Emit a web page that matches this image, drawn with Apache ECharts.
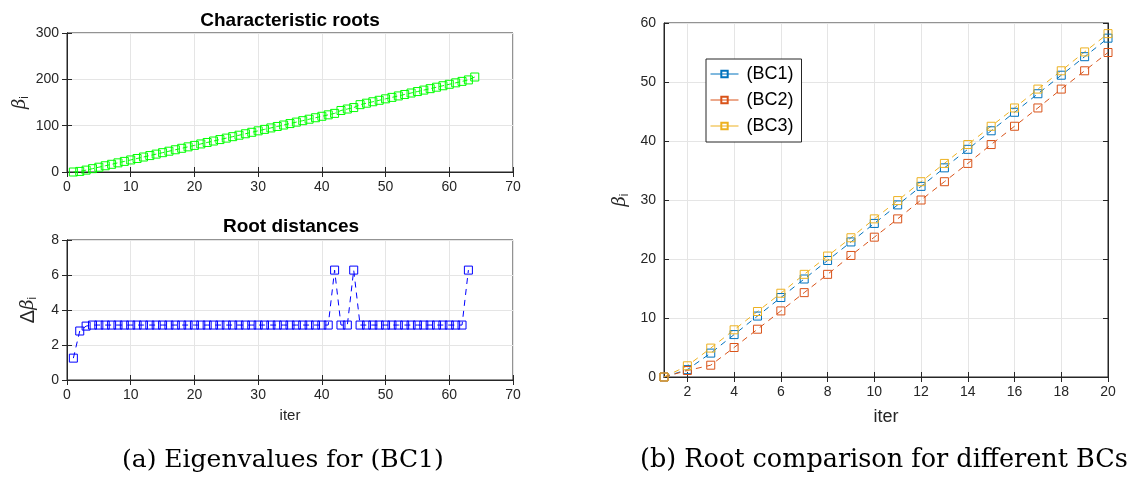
<!DOCTYPE html>
<html>
<head>
<meta charset="utf-8">
<script src="https://cdn.jsdelivr.net/npm/echarts@6/dist/echarts.min.js"></script>
<style>
  html, body { margin: 0; padding: 0; background: #fff; }
  #chart { width: 1133px; height: 477px; }
</style>
</head>
<body>
<div id="chart"></div>
<script>
(function() {
    // data
    var beta = [
        0, 1.25, 4.05, 7.19, 10.33, 13.47, 16.61, 19.75, 22.89, 26.03,
        29.17, 32.31, 35.45, 38.59, 41.73, 44.87, 48.01, 51.15, 54.29, 57.43,
        60.57, 63.71, 66.85, 69.99, 73.13, 76.27, 79.41, 82.55, 85.69, 88.83,
        91.97, 95.11, 98.25, 101.39, 104.53, 107.67, 110.81, 113.95, 117.09, 120.23,
        123.37, 126.51, 132.79, 135.93, 139.07, 145.35, 148.49, 151.63, 154.77, 157.91,
        161.05, 164.19, 167.33, 170.47, 173.61, 176.75, 179.89, 183.03, 186.17, 189.31,
        192.45, 195.59, 198.73, 205.01
    ];
    var dBeta = [
        1.25, 2.80, 3.08, 3.14, 3.14, 3.14, 3.14, 3.14, 3.14, 3.14,
        3.14, 3.14, 3.14, 3.14, 3.14, 3.14, 3.14, 3.14, 3.14, 3.14,
        3.14, 3.14, 3.14, 3.14, 3.14, 3.14, 3.14, 3.14, 3.14, 3.14,
        3.14, 3.14, 3.14, 3.14, 3.14, 3.14, 3.14, 3.14, 3.14, 3.14,
        3.14, 6.28, 3.14, 3.14, 6.28, 3.14, 3.14, 3.14, 3.14, 3.14,
        3.14, 3.14, 3.14, 3.14, 3.14, 3.14, 3.14, 3.14, 3.14, 3.14,
        3.14, 3.14, 6.28
    ];
    var bc1 = [0, 1.25, 4.05, 7.19, 10.33, 13.47, 16.61, 19.75, 22.89, 26.03,
               29.17, 32.31, 35.45, 38.59, 41.73, 44.87, 48.01, 51.15, 54.29, 57.43];
    var bc2 = [0, 1.1, 2.0, 5.0, 8.1, 11.2, 14.3, 17.4, 20.6, 23.7,
               26.8, 30.0, 33.1, 36.2, 39.4, 42.5, 45.6, 48.8, 51.9, 55.0];
    var bc3 = [0, 1.9, 4.9, 8.0, 11.1, 14.2, 17.4, 20.5, 23.6, 26.8,
               29.9, 33.1, 36.2, 39.4, 42.5, 45.6, 48.8, 51.9, 55.1, 58.2];
    var bcNames = ['(BC1)', '(BC2)', '(BC3)'];
    var bcColors = ['#0072BD', '#D95319', '#EDB120'];
    var rightTicks = [2, 4, 6, 8, 10, 12, 14, 16, 18, 20];

    function pairs(arr) {
        return arr.map(function(v, i) { return [i + 1, v]; });
    }

    var sans = 'Liberation Sans';
    var axisCol = '#262626';
    var gridLine = { show: true, lineStyle: { color: '#e5e5e5', width: 1 } };
    var tickIn = { show: true, inside: true, length: 5, lineStyle: { color: axisCol } };
    var lbl = { color: axisCol, fontFamily: sans, fontSize: 14 };
    var nameRich = {
        b: { fontFamily: 'DejaVu Serif', fontStyle: 'italic', fontSize: 18, color: axisCol },
        d: { fontFamily: sans, fontSize: 20, color: axisCol },
        s: { fontFamily: sans, fontSize: 12, color: axisCol, padding: [10, 0, 0, 0] }
    };

    function mainX(gi, min, max, interval, name, extra) {
        var ax = {
            type: 'value', gridIndex: gi, min: min, max: max, interval: interval,
            axisLine: { show: true, lineStyle: { color: axisCol } },
            axisTick: tickIn, axisLabel: lbl, splitLine: gridLine,
            name: name, nameLocation: 'middle', nameGap: 28,
            nameTextStyle: { fontFamily: sans, fontSize: 15, color: axisCol }
        };
        return Object.assign(ax, extra || {});
    }
    function mirror(gi, min, max, interval, pos, extra) {
        var ax = {
            type: 'value', gridIndex: gi, min: min, max: max, interval: interval, position: pos,
            axisLine: { show: true, lineStyle: { color: axisCol } },
            axisTick: tickIn, axisLabel: { show: false }, splitLine: { show: false }
        };
        return Object.assign(ax, extra || {});
    }
    function mainY(gi, min, max, interval, name, gap) {
        return {
            type: 'value', gridIndex: gi, min: min, max: max, interval: interval,
            axisLine: { show: true, lineStyle: { color: axisCol } },
            axisTick: tickIn, axisLabel: lbl, splitLine: gridLine,
            name: name, nameLocation: 'middle', nameGap: gap, nameRotate: 90,
            nameTextStyle: { rich: nameRich }
        };
    }

    var rightTickX = {
        axisTick: Object.assign({}, tickIn, { customValues: rightTicks }),
        axisLabel: Object.assign({}, lbl, { customValues: rightTicks })
    };

    // hollow square marker, line visible through it
    function marker(color) {
        return { color: 'rgba(255,255,255,0)', borderColor: color, borderWidth: 1 };
    }

    var myChart = echarts.init(document.getElementById('chart'));

    var option = {
        backgroundColor: '#fff',
        animation: false,
        title: [
            { text: 'Characteristic roots', left: 285, top: 6, textAlign: 'center',
              textStyle: { fontFamily: sans, fontSize: 19, fontWeight: 'bold', color: '#000' } },
            { text: 'Root distances', left: 286, top: 212, textAlign: 'center',
              textStyle: { fontFamily: sans, fontSize: 19, fontWeight: 'bold', color: '#000' } }
        ],
        grid: [
            { left: 67, top: 33, width: 446, height: 139, show: true, borderColor: axisCol, borderWidth: 1 },
            { left: 67, top: 240, width: 446, height: 140, show: true, borderColor: axisCol, borderWidth: 1 },
            { left: 664, top: 23, width: 444, height: 354, show: true, borderColor: axisCol, borderWidth: 1 }
        ],
        xAxis: [
            mainX(0, 0, 70, 10, ''),
            mainX(1, 0, 70, 10, 'iter'),
            mainX(2, 1, 20, null, 'iter', Object.assign({ nameGap: 31, nameTextStyle: { fontFamily: sans, fontSize: 18, color: axisCol } }, rightTickX)),
            mirror(0, 0, 70, 10, 'top'),
            mirror(1, 0, 70, 10, 'top'),
            mirror(2, 1, 20, null, 'top', { axisTick: Object.assign({}, tickIn, { customValues: rightTicks }) })
        ],
        yAxis: [
            mainY(0, 0, 300, 100, '{b|β}{s|i}', 36),
            mainY(1, 0, 8, 2, '{d|Δ}{b|β}{s|i}', 28),
            mainY(2, 0, 60, 10, '{b|β}{s|i}', 33),
            mirror(0, 0, 300, 100, 'right'),
            mirror(1, 0, 8, 2, 'right'),
            mirror(2, 0, 60, 10, 'right')
        ],
        legend: {
            left: 706, top: 59, orient: 'vertical',
            backgroundColor: '#fff', borderColor: '#262626', borderWidth: 1,
            padding: [6, 8, 7, 4], itemGap: 8, itemWidth: 28, itemHeight: 8,
            textStyle: { fontFamily: sans, fontSize: 18, color: '#000', padding: [0, 0, 0, 3] },
            lineStyle: { type: 'solid', width: 1 },
            data: bcNames
        },
        series: [
            {
                type: 'line', xAxisIndex: 0, yAxisIndex: 0, data: pairs(beta),
                symbol: 'rect', symbolSize: 8,
                lineStyle: { color: '#00ff00', width: 1, type: [5, 3] },
                itemStyle: marker('#00ff00')
            },
            {
                type: 'line', xAxisIndex: 1, yAxisIndex: 1, data: pairs(dBeta),
                symbol: 'rect', symbolSize: 8,
                lineStyle: { color: '#0000ff', width: 1, type: [6, 5] },
                itemStyle: marker('#0000ff')
            }
        ].concat([bc1, bc2, bc3].map(function(arr, k) {
            return {
                name: bcNames[k], type: 'line', xAxisIndex: 2, yAxisIndex: 2, data: pairs(arr),
                symbol: 'rect', symbolSize: 8,
                lineStyle: { color: bcColors[k], width: 1, type: [6, 5] },
                itemStyle: marker(bcColors[k])
            };
        })),
        graphic: [
            { type: 'text', left: 122, top: 448,
              style: { text: '(a) Eigenvalues for (BC1)', font: '25px "DejaVu Serif"', fill: '#000' } },
            { type: 'text', left: 640, top: 447,
              style: { text: '(b) Root comparison for different BCs', font: '25.5px "DejaVu Serif"', fill: '#000' } }
        ]
    };

    myChart.setOption(option);
    window.addEventListener('resize', function() {
        myChart.resize();
    });
})();
</script>
</body>
</html>
